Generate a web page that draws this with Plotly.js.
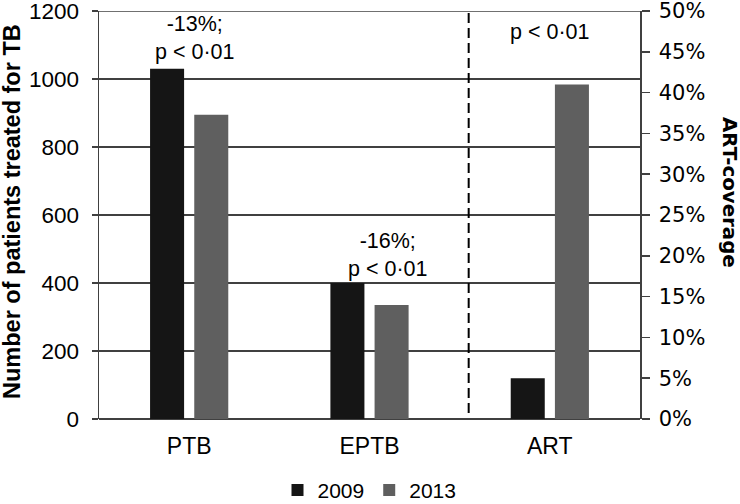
<!DOCTYPE html>
<html>
<head>
<meta charset="utf-8">
<script src="https://cdn.plot.ly/plotly-3.0.1.min.js"></script>
<style>html,body{margin:0;padding:0;background:#fff;}#chart{width:740px;height:504px;}</style>
</head>
<body>
<div id="chart"></div>
<script>
// Data
const categories = ['PTB', 'EPTB', 'ART'];
const tbCategories = ['PTB', 'EPTB'];
const tb2009 = [1030, 400];
const tb2013 = [895, 335];
const artCategory = ['ART'];
const art2009 = [0.05];
const art2013 = [0.41];
const seriesNames = ['2009', '2013'];
const leftTicks = [0, 200, 400, 600, 800, 1000, 1200];
const rightTicks = [0, 0.05, 0.10, 0.15, 0.20, 0.25, 0.30, 0.35, 0.40, 0.45, 0.50];
const annotationTexts = ['-13%;<br>p < 0·01', '-16%;<br>p < 0·01', 'p < 0·01'];

const c2009 = '#151515';
const c2013 = '#5f5f5f';
const axisColor = '#404040';
const arial = 'Liberation Sans, Arial, sans-serif';
const dejavu = 'DejaVu Sans, Verdana, sans-serif';

const traces = [
  {type: 'bar', name: seriesNames[0], x: tbCategories, y: tb2009, yaxis: 'y',
   offsetgroup: 'a', legendgroup: 'a', marker: {color: c2009}, hoverinfo: 'skip'},
  {type: 'bar', name: seriesNames[1], x: tbCategories, y: tb2013, yaxis: 'y',
   offsetgroup: 'b', legendgroup: 'b', marker: {color: c2013}, hoverinfo: 'skip'},
  {type: 'bar', name: seriesNames[0], x: artCategory, y: art2009, yaxis: 'y2',
   offsetgroup: 'a', legendgroup: 'a', showlegend: false, marker: {color: c2009}, hoverinfo: 'skip'},
  {type: 'bar', name: seriesNames[1], x: artCategory, y: art2013, yaxis: 'y2',
   offsetgroup: 'b', legendgroup: 'b', showlegend: false, marker: {color: c2013}, hoverinfo: 'skip'}
];

const layout = {
  width: 740, height: 504,
  margin: {l: 99, r: 100, t: 11, b: 85, autoexpand: false},
  paper_bgcolor: '#fff', plot_bgcolor: '#fff',
  barmode: 'group', bargap: 0.51, bargroupgap: 0.23,
  showlegend: true,
  legend: {orientation: 'h', x: 0.5, xanchor: 'center', y: -0.175, yanchor: 'middle',
           font: {family: arial, size: 21, color: '#000'}, itemwidth: 30, traceorder: 'normal'},
  xaxis: {type: 'category', categoryorder: 'array', categoryarray: categories,
          showline: false, ticks: '', showgrid: false, zeroline: false,
          tickfont: {family: arial, size: 23, color: '#000'}, ticklabelstandoff: 11, fixedrange: true},
  yaxis: {range: [0, 1200], tickvals: leftTicks, ticks: 'outside', ticklen: 6, tickwidth: 1.5,
          tickcolor: axisColor, showline: true, linecolor: axisColor, linewidth: 1.5,
          showgrid: true, gridcolor: axisColor, gridwidth: 1.5, zeroline: true, zerolinecolor: axisColor,
          zerolinewidth: 1.5, tickfont: {family: arial, size: 22.5, color: '#000'}, ticklabelstandoff: 8,
          ticklabeloverflow: 'allow', fixedrange: true},
  yaxis2: {range: [0, 0.5], tickvals: rightTicks, tickformat: '.0%', overlaying: 'y', side: 'right',
           ticks: 'outside', ticklen: 8, tickwidth: 1.5, tickcolor: axisColor, showline: true,
           linecolor: axisColor, linewidth: 1.5, showgrid: false, zeroline: false,
           tickfont: {family: dejavu, size: 21, color: '#000'}, ticklabelstandoff: 5,
           ticklabeloverflow: 'allow', fixedrange: true},
  shapes: [
    {type: 'line', xref: 'paper', yref: 'y', x0: 0, x1: 1, y0: 1200, y1: 1200,
     line: {color: axisColor, width: 1.5}},
    {type: 'line', xref: 'x', yref: 'paper', x0: 1.55, x1: 1.55, y0: 0.015, y1: 1.0,
     line: {color: '#000', width: 2, dash: '10px,5px'}}
  ],
  annotations: [
    {xref: 'x', yref: 'y', x: 'PTB', y: 1122, text: annotationTexts[0], showarrow: false,
     xshift: 6, font: {family: arial, size: 21.5, color: '#000'}},
    {xref: 'x', yref: 'y', x: 'EPTB', y: 483, text: annotationTexts[1], showarrow: false,
     xshift: 18, font: {family: arial, size: 21.5, color: '#000'}},
    {xref: 'x', yref: 'y', x: 'ART', y: 1138, text: annotationTexts[2], showarrow: false,
     xshift: 0, font: {family: arial, size: 21.5, color: '#000'}},
    {xref: 'paper', yref: 'paper', x: 0, y: 0.5, xshift: -87, yshift: 3, xanchor: 'center', yanchor: 'middle',
     text: '<b>Number of patients treated for TB</b>', textangle: -90, showarrow: false,
     font: {family: arial, size: 23.5, color: '#000'}},
    {xref: 'paper', yref: 'paper', x: 1, y: 0.5, xshift: 90, yshift: 23, xanchor: 'center', yanchor: 'middle',
     text: '<b>ART-coverage</b>', textangle: 90, showarrow: false,
     font: {family: dejavu, size: 19.8, color: '#000'}}
  ]
};

Plotly.newPlot('chart', traces, layout, {staticPlot: true, displayModeBar: false});
</script>
</body>
</html>
